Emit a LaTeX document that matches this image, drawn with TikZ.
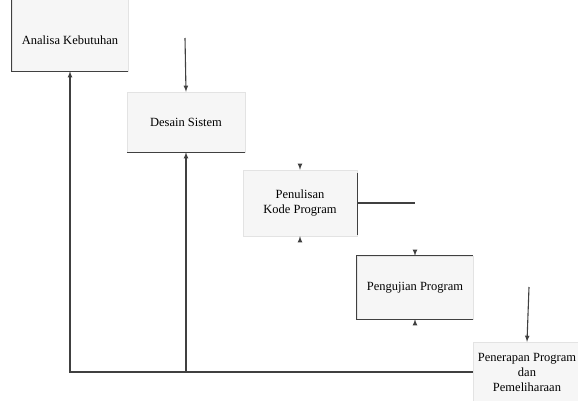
\documentclass[tikz,border=0pt]{standalone}
\usepackage{fontspec}
\setmainfont{Liberation Serif}
\usetikzlibrary{positioning}
\usetikzlibrary{arrows}

\tikzset{
	tahap/.style = {rectangle, fill = gray!7, draw = gray!22, align = center, inner sep = 0pt, font = \fontsize{12.5}{15}\selectfont},
	garis/.style = {line width = 1.1pt, black!75},
}

\begin{document}
\begin{tikzpicture}[x = 1pt, y = -1pt]
		\useasboundingbox (0,0) rectangle (578,400);
		\clip (0,0) rectangle (578,400);
		
		% tahapan waterfall
		\node[tahap, minimum width = 116pt, minimum height = 80pt] (anl) at (70,31) {\raisebox{-13pt}[0pt][0pt]{Analisa Kebutuhan}};
		\node[tahap, minimum width = 118pt, minimum height = 60pt] (des) at (186,122) {Desain Sistem};
		\node[tahap, minimum width = 114pt, minimum height = 66pt] (pen) at (300,203) {Penulisan\\Kode Program};
		\node[tahap, minimum width = 116pt, minimum height = 63pt] (uji) at (415,287.5) {Pengujian Program};
		\node[tahap, minimum width = 108pt, minimum height = 60pt] (ter) at (527,372) {Penerapan Program\\dan\\Pemeliharaan};
		
		% sisi tebal kotak
		\draw[garis] (anl.north west) -- (anl.south west) -- (anl.south east);
		\draw[garis] (des.south west) -- (des.south east);
		\draw[garis] ([yshift = -3pt]pen.north east) -- ([yshift = 1pt]pen.south east);
		\draw[garis] (uji.north east) -- (uji.north west) -- (uji.south west) -- (uji.south east);
		
		% alur
		\coordinate (masukA) at (185,38);
		\coordinate (masukB) at (529,287);
		\path (masukA) edge[garis, -latex] (des.north);
		\path (masukB) edge[garis, -latex] (ter.north);
		\draw[garis] (pen.east) -- ++(58,0);
		\draw[garis, -latex] (ter.west) -| (anl.south);
		\draw[garis, -latex] (ter.west -| des.south) -- (des.south);
		
		% ujung panah kecil
		\draw[garis, -latex] ([yshift = 5pt]pen.north) -- (pen.north);
		\draw[garis, -latex] ([yshift = -5pt]pen.south) -- (pen.south);
		\draw[garis, -latex] ([yshift = 5pt]uji.north) -- (uji.north);
		\draw[garis, -latex] ([yshift = -5pt]uji.south) -- (uji.south);
	\end{tikzpicture}
\end{document}
